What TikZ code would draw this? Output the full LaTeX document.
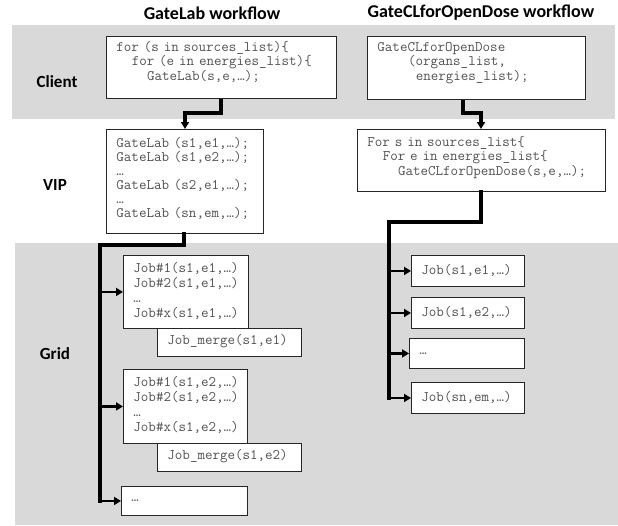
\documentclass[tikz,border=0pt]{standalone}
\usepackage{fontspec}
\setmainfont{Carlito}
\usetikzlibrary{arrows.meta,calc}
\definecolor{band}{RGB}{217,217,217}
\definecolor{codegray}{RGB}{82,82,82}
\newcommand\ind[1]{\hspace*{#1em}}
\newcommand\pd{\hspace*{10pt}}
\begin{document}
\begin{tikzpicture}[x=1pt,y=-1pt,
  title/.style={font=\fontsize{18}{20}\selectfont\bfseries},
  lab/.style={font=\fontsize{17}{19}\selectfont\bfseries},
  cbox/.style={draw=black!85, line width=0.9pt, fill=white, inner sep=0pt,
    align=left, anchor=north west, text=codegray,
    font=\ttfamily\fontsize{14.6}{14.5}\selectfont},
  trunk/.style={line width=3.2pt, line cap=rect},
  conn/.style={line width=3.2pt, -{Triangle[length=7pt,width=8pt]}},
  branch/.style={line width=2.2pt, -{Triangle[length=7pt,width=8pt]}}
]
\useasboundingbox (0,0) rectangle (618,525);
\fill[band] (12,25) rectangle (615,119);
\fill[band] (15,243) rectangle (618,525);

\node[title] (t1) at (212,13) {GateLab workflow};
\node[title] (t2) at (481,13) {GateCLforOpenDose workflow};

\node[lab] (lc) at (57,82) {Client};
\node[lab] (lv) at (55,185) {VIP};
\node[lab] (lg) at (55,354) {Grid};

% left workflow
\node[cbox, text width=230pt, text height=15pt, text depth=47pt] (c1) at (106,36)
  {\pd for (s in sources\_list)\{\\\pd\ind{1.05}for (e in energies\_list)\{\\\pd\ind{2.1}GateLab(s,e,…);};
\node[cbox, text width=157pt, text height=18pt, text depth=86pt,
  font=\ttfamily\fontsize{14.6}{14}\selectfont] (v1) at (106,129)
  {\pd GateLab (s1,e1,…);\\\pd GateLab (s1,e2,…);\\\pd …\\\pd GateLab (s2,e1,…);\\\pd …\\\pd GateLab (sn,em,…);};
\node[cbox, text width=125pt, text height=17pt, text depth=56pt,
  font=\ttfamily\fontsize{14.6}{15}\selectfont] (j1) at (123,255)
  {\pd Job\#1(s1,e1,…)\\\pd Job\#2(s1,e1,…)\\\pd …\\\pd Job\#x(s1,e1,…)};
\node[cbox, text width=144pt, text height=16pt, text depth=12pt] (m1) at (157,328)
  {\pd Job\_merge(s1,e1)};
\node[cbox, text width=124pt, text height=17pt, text depth=57pt,
  font=\ttfamily\fontsize{14.6}{15}\selectfont] (j2) at (123,369)
  {\pd Job\#1(s1,e2,…)\\\pd Job\#2(s1,e2,…)\\\pd …\\\pd Job\#x(s1,e2,…)};
\node[cbox, text width=144pt, text height=16pt, text depth=12pt] (m2) at (157,443)
  {\pd Job\_merge(s1,e2)};
\node[cbox, text width=126pt, text height=15pt, text depth=14pt] (d1) at (121,486)
  {\pd …};

% right workflow
\node[cbox, text width=218pt, text height=15pt, text depth=48pt] (c2) at (367,36)
  {\pd GateCLforOpenDose\\\pd\ind{2.1}(organs\_list,\\\pd\ind{2.625}energies\_list);};
\node[cbox, text width=248pt, text height=17pt, text depth=45pt] (v2) at (357,129)
  {\pd For s in sources\_list\{\\\pd\ind{1.05}For e in energies\_list\{\\\pd\ind{2.1}GateCLforOpenDose(s,e,…);};
\node[cbox, text width=113pt, text height=19pt, text depth=12pt] (r1) at (411,255)
  {\pd Job(s1,e1,…)};
\node[cbox, text width=113pt, text height=19pt, text depth=12pt] (r2) at (411,297)
  {\pd Job(s1,e2,…)};
\node[cbox, text width=115pt, text height=16pt, text depth=14pt] (r3) at (409,338)
  {\pd …};
\node[cbox, text width=113pt, text height=19pt, text depth=12pt] (r4) at (411,382)
  {\pd Job(sn,em,…)};

% connectors
\draw[conn] ([xshift=115pt]c1.south west) |- ([xshift=79pt,yshift=16pt]v1.north west) -- ([xshift=79pt]v1.north west);
\draw[conn] ([xshift=96pt]c2.south west) |- ([xshift=124pt,yshift=16pt]v2.north west) -- ([xshift=124pt]v2.north west);

\coordinate (lt) at (100,245);
\draw[trunk] ([xshift=78pt]v1.south west) |- (lt) -- (lt |- d1.west);
\foreach \n in {j1,j2,d1} \draw[branch] (lt |- \n.west) -- (\n.west);

\coordinate (rt) at (389,222);
\draw[trunk] ([xshift=124pt]v2.south west) |- (rt) -- (rt |- r4.west);
\foreach \n in {r1,r2,r3,r4} \draw[branch] (rt |- \n.west) -- (\n.west);
\end{tikzpicture}
\end{document}
